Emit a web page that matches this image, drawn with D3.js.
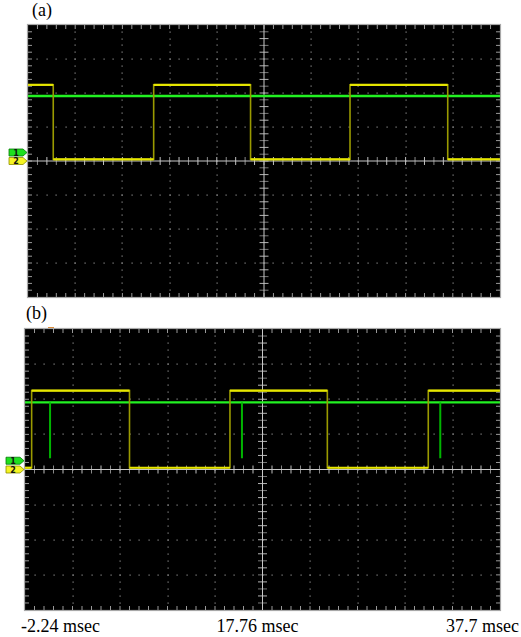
<!DOCTYPE html>
<html>
<head>
<meta charset="utf-8">
<script src="https://cdn.jsdelivr.net/npm/d3@7"></script>
<style>
  html, body { margin: 0; padding: 0; background: #fff; }
  svg { display: block; }
</style>
</head>
<body>
<svg id="scope" width="521" height="637"></svg>
<script>
// Two oscilloscope captures drawn with D3
const timeDomain = [-2.24, 37.76];          // msec across 10 divisions
const timeLabels = ['-2.24 msec', '17.76 msec', '37.7 msec'];
const panelNames = ['(a)', '(b)'];

// panel (a): yellow = channel 2 square wave, green = channel 1 level (in divisions)
const aYellowTimes  = [-2.24, -0.10, 8.41, 16.62, 25.05, 33.33, 37.76];
const aYellowLevels = [2.24, 0.05, 2.24, 0.05, 2.24, 0.05, 0.05];
const aGreenLevel = 1.91;

// panel (b)
const bYellowTimes  = [-2.24, -1.68, 6.56, 15.02, 23.22, 31.72, 37.76];
const bYellowLevels = [0.05, 2.245, 0.05, 2.245, 0.05, 2.245, 2.245];
const bGreenLevel = 1.91;
const bSpikeTimes = [-0.13, 16.03, 32.73];
const bSpikeLevel = 0.32;
const bTrigger = -0.05;

// channel ground markers (divisions)
const markerLevels = [{ ch: '1', level: 0.25, fill: '#1ee01e', stroke: '#067a06' },
                      { ch: '2', level: 0,    fill: '#f4f422', stroke: '#8e8e00' }];

const panels = [
  { box: { x: 28, y: 25, w: 472, h: 272 }, yt: aYellowTimes, yl: aYellowLevels,
    green: aGreenLevel, spikes: [], name: panelNames[0], labelY: 16, labelX: 32 },
  { box: { x: 25, y: 329, w: 475, h: 281 }, yt: bYellowTimes, yl: bYellowLevels,
    green: bGreenLevel, spikes: bSpikeTimes, name: panelNames[1], labelY: 319, labelX: 26,
    trigger: bTrigger }
];

const svg = d3.select('#scope');

panels.forEach(p => {
  const b = p.box;
  const x = d3.scaleLinear().domain(timeDomain).range([b.x, b.x + b.w]);
  const y = d3.scaleLinear().domain([-4, 4]).range([b.y + b.h, b.y]);
  const g = svg.append('g');

  // panel label
  svg.append('text')
    .attr('x', p.labelX).attr('y', p.labelY)
    .style('font-family', '"Liberation Serif", "Times New Roman", serif')
    .style('font-size', '18px')
    .text(p.name);

  // screen
  g.append('rect')
    .attr('x', b.x).attr('y', b.y).attr('width', b.w).attr('height', b.h)
    .attr('fill', '#000');

  const dx = b.w / 50, dy = b.h / 40;    // minor steps (1/5 division)
  const cx = b.x + b.w / 2, cy = b.y + b.h / 2;

  // dotted graticule
  const dots = [];
  for (let i = 1; i < 10; i++) {
    if (i === 5) continue;
    for (let j = 1; j < 40; j++) dots.push([b.x + i * b.w / 10, b.y + j * dy]);
  }
  for (let i = 1; i < 8; i++) {
    if (i === 4) continue;
    for (let j = 1; j < 50; j++) dots.push([b.x + j * dx, b.y + i * b.h / 8]);
  }
  g.selectAll('rect.dot').data(dots).join('rect')
    .attr('class', 'dot')
    .attr('x', d => Math.round(d[0]) - 0.5).attr('y', d => Math.round(d[1]) - 0.5)
    .attr('width', 1.2).attr('height', 1.2)
    .attr('fill', '#8a8a8a');

  // edge ticks
  const ticks = g.append('g').attr('stroke', '#9a9a9a').attr('stroke-width', 1);
  for (let j = 1; j < 40; j++) {
    const yy = b.y + j * dy;
    ticks.append('line').attr('x1', b.x).attr('x2', b.x + 4).attr('y1', yy).attr('y2', yy);
    ticks.append('line').attr('x1', b.x + b.w - 4).attr('x2', b.x + b.w).attr('y1', yy).attr('y2', yy);
    ticks.append('line').attr('x1', cx - 4.5).attr('x2', cx + 4.5).attr('y1', yy).attr('y2', yy)
      .attr('stroke', j % 2 ? '#777' : '#b5b5b5');
  }
  for (let j = 1; j < 50; j++) {
    const xx = b.x + j * dx;
    ticks.append('line').attr('y1', b.y).attr('y2', b.y + 4).attr('x1', xx).attr('x2', xx);
    ticks.append('line').attr('y1', b.y + b.h - 4).attr('y2', b.y + b.h).attr('x1', xx).attr('x2', xx);
    ticks.append('line').attr('y1', cy - 4).attr('y2', cy + 4).attr('x1', xx).attr('x2', xx)
      .attr('stroke', j % 2 ? '#888' : '#c0c0c0');
  }
  // centre cross
  g.append('line').attr('x1', cx).attr('x2', cx).attr('y1', b.y).attr('y2', b.y + b.h)
    .attr('stroke', '#c8c8c8').attr('stroke-width', 1);
  g.append('line').attr('x1', b.x).attr('x2', b.x + b.w).attr('y1', cy).attr('y2', cy)
    .attr('stroke', '#c8c8c8').attr('stroke-width', 1);

  // trigger mark
  if (p.trigger !== undefined) {
    g.append('line').attr('x1', x(p.trigger) - 3).attr('x2', x(p.trigger) + 3)
      .attr('y1', b.y - 1).attr('y2', b.y - 1)
      .attr('stroke', '#e08a30').attr('stroke-width', 2);
  }

  // green channel
  g.append('line')
    .attr('x1', x(timeDomain[0])).attr('x2', x(timeDomain[1]))
    .attr('y1', y(p.green)).attr('y2', y(p.green))
    .attr('stroke', '#22f222').attr('stroke-width', 2.4);
  g.selectAll('line.spike').data(p.spikes).join('line')
    .attr('class', 'spike')
    .attr('x1', d => x(d)).attr('x2', d => x(d))
    .attr('y1', y(p.green)).attr('y2', y(bSpikeLevel))
    .attr('stroke', '#00b400').attr('stroke-width', 2);

  // yellow channel: dim edges, bright plateaus
  const pts = p.yt.map((t, i) => ({ t, v: p.yl[i] }));
  const step = d3.line().x(d => x(d.t)).y(d => y(d.v)).curve(d3.curveStepAfter);
  g.append('path').datum(pts)
    .attr('d', step).attr('fill', 'none')
    .attr('stroke', '#9a9a00').attr('stroke-width', 1.6);
  const segs = pts.slice(0, -1).map((d, i) => ({ t0: d.t, t1: pts[i + 1].t, v: d.v }));
  g.selectAll('line.seg').data(segs).join('line')
    .attr('class', 'seg')
    .attr('x1', d => x(d.t0)).attr('x2', d => x(d.t1))
    .attr('y1', d => y(d.v)).attr('y2', d => y(d.v))
    .attr('stroke', '#e6e600').attr('stroke-width', 2.2);

  // frame
  g.append('rect')
    .attr('x', b.x - 0.5).attr('y', b.y - 0.5).attr('width', b.w + 1).attr('height', b.h + 1)
    .attr('fill', 'none').attr('stroke', '#a8a8a8').attr('stroke-width', 1.2);

  // channel markers
  markerLevels.forEach(m => {
    const yy = y(m.level);
    const x1 = b.x - 1, x0 = x1 - 18;
    g.append('path')
      .attr('d', `M${x0},${yy - 3.5}L${x1 - 4},${yy - 3.5}L${x1},${yy}L${x1 - 4},${yy + 3.5}L${x0},${yy + 3.5}Z`)
      .attr('fill', m.fill).attr('stroke', m.stroke).attr('stroke-width', 0.8);
    g.append('text')
      .attr('x', x0 + 7).attr('y', yy + 3)
      .attr('text-anchor', 'middle')
      .style('font-family', '"DejaVu Sans", sans-serif')
      .style('font-size', '8px').style('font-weight', 'bold')
      .attr('fill', '#111')
      .text(m.ch);
  });

  // time labels under the last panel
  if (p === panels[panels.length - 1]) {
    const lab = [
      { text: timeLabels[0], x: b.x - 4, anchor: 'start' },
      { text: timeLabels[1], x: cx - 5, anchor: 'middle' },
      { text: timeLabels[2], x: 519, anchor: 'end' }
    ];
    svg.selectAll('text.tl').data(lab).join('text')
      .attr('class', 'tl')
      .attr('x', d => d.x).attr('y', 632)
      .attr('text-anchor', d => d.anchor)
      .style('font-family', '"Liberation Serif", "Times New Roman", serif')
      .style('font-size', '18px')
      .text(d => d.text);
  }
});
</script>
</body>
</html>
